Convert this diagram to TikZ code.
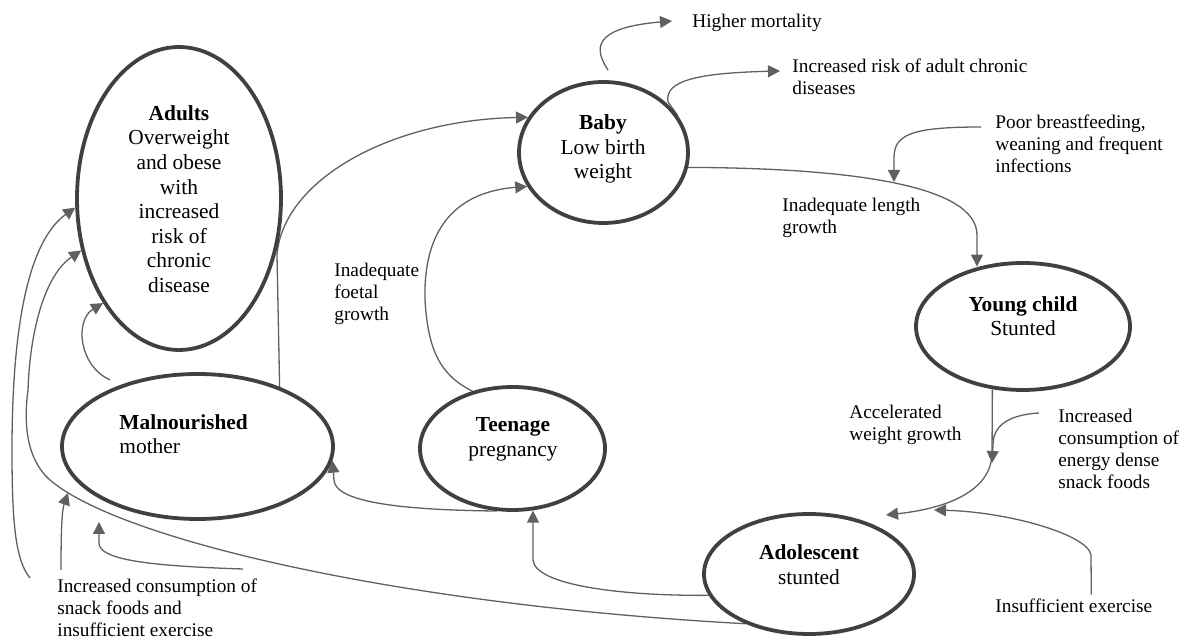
\documentclass[tikz,border=0pt]{standalone}
\usepackage{fontspec}
\setmainfont{Liberation Serif}
\usetikzlibrary{arrows.meta,shapes.geometric}
\pgfdeclarelayer{bg}
\pgfsetlayers{bg,main}
\definecolor{rimgray}{HTML}{404040}
\definecolor{linkgray}{HTML}{606060}
\tikzset{
  blob/.style={ellipse, draw=rimgray, line width=1.9pt, fill=white, inner sep=0pt},
  intext/.style={align=center, inner sep=0pt, font={\fontsize{10.7}{12.3}\selectfont}},
  lbl/.style={anchor=west, align=left, inner sep=0pt, font={\fontsize{9.66}{11}\selectfont}},
  link/.style={draw=linkgray, line width=0.65pt},
  arr/.style={link, -{Triangle[length=6pt,width=6pt]}}
}
\begin{document}
\begin{tikzpicture}[x=0.5pt,y=-0.5pt]
\useasboundingbox (0,0) rectangle (1184,640);

% life-cycle stages
\node[blob, minimum width=102pt, minimum height=151.5pt] (adults) at (179,198.5) {};
\node[blob, minimum width=84.5pt, minimum height=70.5pt] (baby) at (603.5,152.5) {};
\node[blob, minimum width=107pt, minimum height=63.5pt] (yc) at (1023,326.5) {};
\node[blob, minimum width=135.5pt, minimum height=72.5pt] (mal) at (197.5,446.5) {};
\node[blob, minimum width=92.5pt, minimum height=61.5pt] (teen) at (512.5,448.5) {};
\node[blob, minimum width=105pt, minimum height=60pt] (ado) at (809,574) {};

\node[intext] (adultsT) at (179,199) {\textbf{Adults}\\Overweight\\and obese\\with\\increased\\risk of\\chronic\\disease};
\node[intext] (babyT) at (603,149) {\textbf{Baby}\\Low birth\\weight};
\node[intext] (ycT) at (1023,316) {\textbf{Young child}\\Stunted};
\node[intext, anchor=west, align=left] (malT) at (119,434) {\textbf{Malnourished}\\mother};
\node[intext] (teenT) at (513,439.5) {\textbf{Teenage}\\pregnancy};
\node[intext] (adoT) at (809,564.5) {\textbf{Adolescent}\\stunted};

% outcome and cause labels
\node[lbl] (hm) at (692,23) {Higher mortality};
\node[lbl] (risk) at (792,76.5) {Increased risk of adult chronic\\diseases};
\node[lbl] (poor) at (995,144) {Poor breastfeeding,\\weaning and frequent\\infections};
\node[lbl] (len) at (782,218) {Inadequate length\\growth};
\node[lbl] (foetal) at (334,294) {Inadequate\\foetal\\growth};
\node[lbl] (acc) at (849,425) {Accelerated\\weight growth};
\node[lbl] (energy) at (1058,449) {Increased\\consumption of\\energy dense\\snack foods};
\node[lbl] (insuf) at (995,606) {Insufficient exercise};
\node[lbl] (snack) at (57,608) {Increased consumption of\\snack foods and\\insufficient exercise};

% free ends of connectors
\coordinate (lenjoin) at (894,182);
\coordinate (accjoin) at (992,463);
\coordinate (adoIn) at (886,515);
\coordinate (adoIn2) at (934,510);
\coordinate (malOut) at (110,380);
\coordinate (snkA) at (30,578);
\coordinate (snkB) at (61,570);
\coordinate (snkC) at (243,569);
\coordinate (malIn1) at (68,493);
\coordinate (malIn2) at (99,522);

\begin{pgfonlayer}{bg}
% main cycle
\draw[arr] (mal.36) -- (277,255) .. controls (283,180) and (390,120) .. (baby.155);
\draw[arr] (teen.125.5) .. controls (440,375) and (428,350) .. (425,300)
  .. controls (423,230) and (455,192) .. (baby.204);
\draw[arr] (baby.-10) .. controls (850,168) and (977,185) .. (977,235) -- (977,235 |- yc.126);
\draw[arr] (yc.244) -- (992,455) .. controls (990,490) and (950,508) .. (adoIn);
\draw[arr] (ado.192.7) .. controls (620,596) and (535,585) .. (533,560) -- (533,560 |- teen.-73);
\draw[arr] (teen.256) .. controls (400,510) and (335,502) .. (334,480) -- (mal.-6.5);
\draw[arr] (malOut) .. controls (78,365) and (75,320) .. (adults.234);
\draw[arr] (ado.218) .. controls (400,605) and (120,540) .. (50,480)
  .. controls (25,458) and (24,420) .. (28,390)
  .. controls (30,330) and (45,275) .. (adults.208);

% outcomes of low birth weight
\draw[arr] ([xshift=2.25pt,yshift=5pt]baby.north) .. controls (595,50) and (590,28) .. ([xshift=-10pt,yshift=1pt]hm.west);
\draw[arr] (baby.27) -- (668,102) .. controls (664,80) and (700,73) .. ([xshift=-6pt,yshift=2.75pt]risk.west);

% contributing factors
\draw[arr] ([xshift=-7pt,yshift=8.5pt]poor.west) .. controls (910,127) and (894,135) .. (894,158) -- (lenjoin);
\draw[arr] ([xshift=-9.5pt,yshift=18pt]energy.west) .. controls (1005,415) and (993,428) .. (993,445) -- (accjoin);
\draw[arr] ([xshift=8.75pt,yshift=2pt]insuf.north) -- (1091,555) .. controls (1088,535) and (1010,512) .. (adoIn2);
\draw[arr] (snkA) .. controls (15,560) and (12,520) .. (12,450)
  .. controls (12,320) and (30,240) .. (adults.185);
\draw[arr] (snkB) .. controls (61,530) and (62,510) .. (malIn1);
\draw[arr] (snkC) .. controls (150,566) and (99,560) .. (99,543) -- (malIn2);
\end{pgfonlayer}
\end{tikzpicture}
\end{document}
